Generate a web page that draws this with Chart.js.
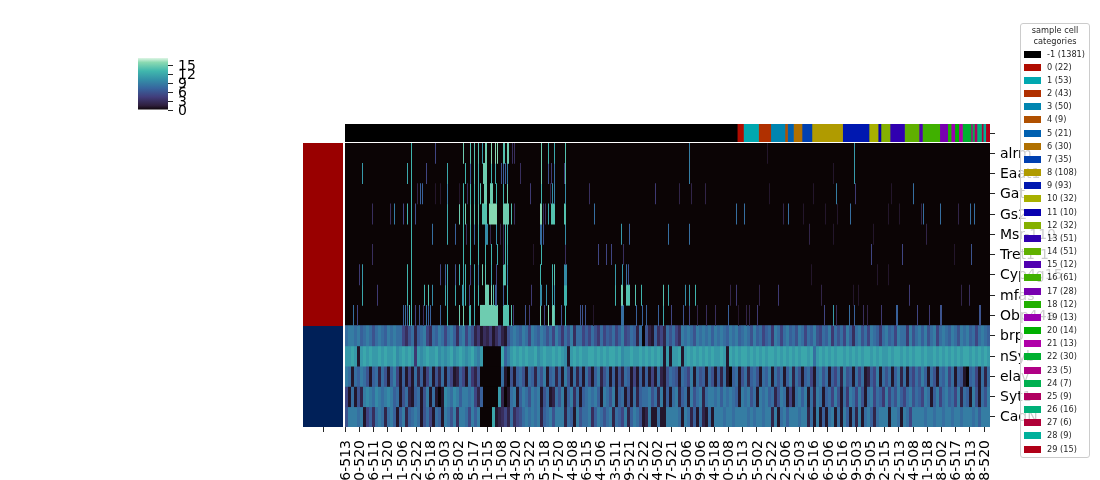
<!DOCTYPE html>
<html>
<head>
<meta charset="utf-8">
<title>Cell clustermap</title>
<script src="https://cdn.jsdelivr.net/npm/chart.js"></script>
<style>
    html, body { margin: 0; padding: 0; background: #fff; }
    body { width: 1100px; height: 480px; overflow: hidden; position: relative; font-family: 'DejaVu Sans', sans-serif; }
    canvas { position: absolute; }
    #legend { position: absolute; left: 1020px; top: 23px; width: 68px; height: 433px; box-sizing: content-box; background: rgba(255, 255, 255, 0.8); border: 1px solid #ccc; border-radius: 3px; z-index: 5; color: #262626; font-size: 8.2px; }
    #legend .title { text-align: center; line-height: 11px; margin-top: 1px; height: 22px; }
    #legend .row { position: absolute; left: 3px; height: 13px; line-height: 13px; white-space: nowrap; }
    #legend .swatch { position: absolute; left: 0; top: 3px; width: 17px; height: 7px; }
    #legend .label { position: absolute; left: 23px; top: 0; }
</style>
</head>
<body>
<canvas id="colorbar" width="100" height="70" style="left:130px;top:50px"></canvas>
<canvas id="col-colors" width="655" height="18" style="left:345px;top:124px"></canvas>
<canvas id="row-colors" width="40" height="289" style="left:303px;top:143px"></canvas>
<canvas id="heatmap" width="765" height="337" style="left:335px;top:143px"></canvas>
<div id="legend"></div>
<script>
// Cluster categories, in the order of the column colour bar
const clusterNames = ['-1', '0', '1', '2', '3', '4', '5', '6', '7', '8', '9', '10', '11', '12', '13', '14', '15', '16', '17', '18', '19', '20', '21', '22', '23', '24', '25', '26', '27', '28', '29'];
const clusterCounts = [1381, 22, 53, 43, 50, 9, 21, 30, 35, 108, 93, 32, 10, 32, 51, 51, 12, 61, 28, 12, 13, 14, 13, 30, 5, 7, 9, 16, 6, 9, 15];
const clusterColors = ['#000000', '#b00c00', '#00a8b0', '#b03000', '#0085b0', '#b05000', '#0060b0', '#b07000', '#0040b0', '#b09b00', '#0018b0', '#a8b000', '#0800b0', '#85b000', '#3000b0', '#60b000', '#5000b0', '#40b000', '#7800b0', '#20b000', '#9b00b0', '#00b000', '#b000a8', '#00b030', '#b00085', '#00b050', '#b00060', '#00b078', '#b00038', '#00b09b', '#b00018'];

const sampleTicks = ['6-513', '0-520', '6-511', '1-520', '1-506', '2-522', '6-518', '3-503', '8-502', '5-517', '1-515', '1-508', '4-520', '3-522', '5-518', '7-520', '4-508', '6-515', '4-506', '3-511', '9-521', '2-522', '4-502', '7-521', '5-506', '9-506', '4-518', '0-508', '5-513', '5-502', '2-522', '2-506', '2-503', '6-516', '6-506', '6-516', '9-503', '9-505', '2-515', '2-513', '4-508', '1-518', '8-502', '6-517', '8-513', '8-520'];
const tickEvery = 50;

const genes = ['alrm', 'Eaat1', 'Gat', 'Gs2', 'Msr-110', 'Tret1-1', 'Cyp4g15', 'mfas', 'Obp44a', 'brp', 'nSyb', 'elav', 'Syt1', 'CadN'];
const geneGroups = [9, 5];
const geneGroupColors = ['#990000', '#002058'];

// The picture shows the cells squeezed into 645 columns.
const totalCells = 2271;
const shownColumns = 645;
const colorMax = 17.6;
const colorbarTicks = [0, 3, 6, 9, 12, 15];

// mako colormap stops
const makoPos = [0, 0.083, 0.25, 0.417, 0.583, 0.75, 0.917, 1];
const makoHex = ['#0b0405', '#2e1e3c', '#413d7b', '#37659e', '#348fa7', '#40b7ad', '#8bdab2', '#def5e5'];

// Sparse genes: [column, expression, span]
const alrmHits = [[66,13],[90,5],[118,15],[125,14],[129,14],[133,14],[137,11],[140,15,2],[146,16],[150,16],[152,16],[158,14,2],[162,15,2],[167,3],[169,3],[196,15],[203,13],[209,12],[220,14],[344,9],[422,1],[509,11]];
const eaat1Hits = [[17,11],[62,12],[66,13],[81,5],[102,12],[120,13],[125,7],[129,14],[133,13],[138,15,4],[146,13],[150,12],[156,6],[158,7],[160,7],[162,9],[175,3],[196,15],[203,6],[206,4],[209,8],[219,4],[220,14],[344,9],[488,1],[509,11]];
const gatHits = [[66,13],[72,2],[75,7],[77,7],[90,1],[95,1],[102,9],[114,1],[118,13],[122,3],[125,13],[129,13],[133,13],[135,14],[139,15,3],[145,15,3],[151,13],[158,13],[162,15],[185,4],[196,13],[205,2],[207,10],[209,9],[220,10],[244,3],[310,4],[334,2],[346,2],[360,2],[424,1],[468,1],[491,9],[510,4],[546,1],[568,8]];
const gs2Hits = [[27,3],[45,3],[49,9],[58,5],[62,13],[66,13],[70,6],[102,12],[114,15],[118,13],[120,15],[125,14],[129,14],[133,14],[137,14,5],[144,16,8],[158,15,6],[166,14],[169,3],[195,16,2],[198,3],[200,3],[203,12],[206,14,3],[209,14],[219,14,2],[249,8],[391,8],[399,8],[438,2],[443,8],[458,1],[480,1],[492,1],[505,8],[543,1],[554,1],[576,2],[578,8],[595,8],[613,2],[625,8],[629,8]];
const msrHits = [[66,13],[87,8],[102,12],[110,7],[118,13],[121,3],[125,13],[129,8],[133,13],[140,10,3],[145,2],[151,10],[155,2],[158,3],[160,13],[162,13],[195,8,2],[198,6],[220,10],[276,11],[284,7],[323,8],[344,8],[464,2],[488,1],[528,1],[581,2]];
const tretHits = [[27,3],[66,13],[118,13],[125,13],[133,13],[140,13],[146,13],[152,12],[158,3],[160,13],[162,12],[188,1],[196,13],[220,3],[253,5],[261,5],[266,5],[278,3],[526,5],[557,5],[609,1],[626,6]];
const cypHits = [[14,4],[17,11],[62,13],[66,13],[95,5],[100,7],[102,12],[110,6],[114,13],[118,12],[120,13],[125,5],[129,12],[133,9],[137,15],[140,14],[146,12],[151,5],[158,14,3],[162,9],[195,13],[207,13],[209,14],[219,10,3],[270,11],[277,11],[281,8],[283,6],[466,1],[532,1],[543,1]];
const mfasHits = [[17,12],[32,4],[62,13],[66,13],[79,13],[83,14],[87,10],[100,12],[102,12],[110,12],[117,11,2],[120,13],[124,5],[129,13],[133,13],[140,15,3],[143,15],[146,16],[148,14],[150,7],[151,6],[158,7],[162,13],[186,4],[195,10,2],[201,10],[207,12],[209,10],[219,13,3],[270,13],[276,15,2],[281,14,4],[290,14],[296,13],[318,14],[323,12],[340,10],[344,11],[350,13],[385,2],[391,4],[414,2],[433,4],[476,2],[508,1],[513,1],[564,4],[616,2],[624,3]];
const obpHits = [[8,8],[12,5],[58,7],[60,8],[62,7],[64,14],[66,13],[70,5],[74,6],[78,3],[81,8],[83,7],[85,7],[95,7],[102,13],[114,15],[118,15],[124,13,2],[129,12],[135,15,18],[158,14,6],[166,14],[168,4],[180,6],[184,4],[195,15],[199,5],[203,16],[207,15,2],[209,14],[216,6],[220,13],[235,6],[237,6],[240,6],[248,1],[276,8,3],[291,7],[297,7],[301,7],[313,7],[318,12],[326,5],[338,6],[344,5],[352,2],[361,3],[370,3],[383,7],[393,1],[401,2],[404,2],[412,4],[479,5],[488,11],[491,3],[504,8],[509,7],[518,3],[522,2],[536,4],[551,7,2],[572,5],[584,4],[595,6,2],[634,6,2]];

// Dense genes: one value for every 3 shown columns
const denseBin = 3;
const brpBins = [
    8,9,9,8,9,7,8,9,8,6,8,9,8,7,9,8,9,8,8,5,
    3,6,8,2,7,8,9,5,3,8,7,9,8,5,8,9,7,3,8,9,
    5,8,6,2,4,1,3,2,4,1,3,5,2,1,6,8,9,8,7,9,
    8,5,9,8,7,9,8,6,8,5,9,7,4,8,6,9,3,8,8,5,
    7,5,8,6,4,8,5,7,6,8,5,7,9,5,6,8,7,2,8,0,
    6,2,1,7,3,5,2,8,6,8,5,3,9,8,9,8,6,9,8,9,
    8,9,7,9,8,9,8,7,9,8,9,7,8,9,8,6,9,7,8,5,
    7,8,4,9,8,5,8,9,7,8,6,9,8,5,8,7,9,6,5,8,
    7,9,4,8,6,8,5,9,7,3,8,9,6,8,5,9,8,7,4,8,
    9,7,8,5,9,8,8,4,9,6,8,9,7,9,6,8,9,5,8,9,
    8,7,9,8,6,9,8,9,7,8,5,8,9,8,7
];
const nsybBins = [
    11,11,12,11,1,11,12,11,12,11,11,12,11,12,11,11,12,10,11,12,
    11,12,11,4,11,10,11,12,11,11,12,10,11,10,11,12,10,11,12,11,
    10,11,12,10,9,11,0,0,0,0,0,0,12,7,9,11,12,11,12,11,
    12,11,11,12,10,11,12,11,11,12,11,12,11,10,1,11,12,11,12,11,
    11,12,12,11,12,11,12,11,12,12,11,12,10,11,11,12,11,11,12,11,
    12,11,12,11,12,11,1,11,1,11,11,12,1,11,12,11,12,11,12,11,
    12,11,12,11,11,12,11,1,12,11,12,11,12,12,11,12,11,12,11,12,
    11,12,12,11,12,11,12,11,12,11,12,11,12,12,11,12,8,11,12,11,
    12,11,12,11,12,12,11,12,11,12,11,12,11,12,12,11,12,11,12,11,
    11,12,11,12,12,11,12,11,12,11,12,12,11,12,11,11,12,11,12,11,
    12,11,12,11,12,11,12,12,11,12,11,12,11,12,11
];
const elavBins = [
    9,8,1,8,7,9,8,6,1,7,8,2,8,6,1,7,9,5,1,7,
    1,5,1,8,2,7,1,5,8,1,6,2,8,1,7,5,1,2,7,5,
    1,8,4,2,6,0,0,0,0,0,0,0,8,1,0,6,1,7,8,6,
    1,8,7,2,8,6,9,1,7,8,2,7,1,9,6,1,8,2,7,1,
    8,5,1,7,9,2,6,8,1,7,1,6,2,8,7,1,5,1,7,1,
    7,1,5,1,8,2,1,6,8,7,6,1,8,7,5,9,1,8,6,7,
    1,8,6,1,7,2,8,1,0,7,8,1,6,8,2,7,8,6,1,8,
    7,9,1,8,6,8,1,7,9,2,8,6,1,7,8,5,1,8,9,6,
    8,1,7,5,8,2,9,6,7,1,8,5,8,1,2,7,5,9,1,8,
    6,8,1,7,9,2,8,1,7,5,8,6,9,7,1,8,6,1,8,7,
    9,5,8,1,7,6,1,0,7,8,5,1,8,2,8
];
const syt1Bins = [
    5,1,8,1,6,2,9,10,9,8,10,9,8,9,10,9,7,8,1,6,
    8,2,1,7,8,1,6,9,1,8,1,0,1,10,9,8,10,9,7,9,
    9,8,9,5,2,7,0,0,0,0,0,11,2,0,1,8,9,1,7,9,
    8,6,9,8,9,1,6,8,1,2,8,6,9,1,7,9,3,8,1,7,
    8,9,8,9,7,1,9,8,6,9,1,7,8,1,6,1,8,2,7,8,
    8,9,6,8,2,9,1,7,1,8,9,2,7,8,1,9,6,8,9,2,
    8,9,9,8,9,7,9,8,9,8,7,1,9,8,9,6,8,1,9,8,
    9,7,8,2,6,9,8,1,5,1,8,9,7,9,1,8,2,9,8,1,
    7,8,5,9,6,1,8,4,9,8,5,9,6,1,8,9,5,8,7,4,
    9,5,8,6,9,7,5,8,9,6,8,7,5,9,8,1,7,9,5,8,
    9,7,8,5,9,2,8,7,1,9,6,1,8,6,9
];
const cadnBins = [
    6,9,9,9,8,9,1,5,7,3,8,9,8,2,8,9,7,1,7,9,
    2,7,8,9,8,1,6,8,5,1,8,7,1,9,8,6,9,3,9,9,
    8,5,9,7,9,0,0,0,0,12,1,2,3,5,2,8,3,5,6,8,
    9,8,9,8,9,2,7,8,9,6,9,9,9,2,8,7,1,9,6,8,
    8,9,3,7,9,8,6,8,9,2,8,7,5,9,2,7,9,8,6,1,
    2,9,1,1,8,1,1,9,9,9,9,8,1,9,8,2,7,1,8,2,
    1,8,1,9,9,9,8,9,9,8,9,9,9,9,8,9,8,9,9,8,
    9,9,2,9,1,8,9,7,9,9,9,8,9,9,2,8,1,9,1,7,
    1,8,9,1,8,1,9,7,1,8,2,9,1,8,9,7,2,8,9,9,
    9,1,9,9,8,1,9,8,5,9,9,9,9,8,9,9,8,9,9,8,
    9,9,8,9,9,8,9,9,9,8,9,7,9,9,9
];

const sparseRows = [alrmHits, eaat1Hits, gatHits, gs2Hits, msrHits, tretHits, cypHits, mfasHits, obpHits];
const denseRows = [brpBins, nsybBins, elavBins, syt1Bins, cadnBins];

const INK = '#000000';
Chart.defaults.font.family = "'DejaVu Sans', sans-serif";
Chart.defaults.color = INK;
Chart.defaults.animation = false;
Chart.defaults.responsive = false;
Chart.defaults.plugins.legend.display = false;
Chart.defaults.plugins.tooltip.enabled = false;

function hexToRgb(hex) {
    return [1, 3, 5].map(i => parseInt(hex.slice(i, i + 2), 16));
}

function valueColor(value) {
    const t = Math.min(value / colorMax, 1);
    let i = 0;
    while (i < makoPos.length - 2 && t > makoPos[i + 1]) i++;
    const f = (t - makoPos[i]) / (makoPos[i + 1] - makoPos[i]);
    const a = hexToRgb(makoHex[i]);
    const b = hexToRgb(makoHex[i + 1]);
    const rgb = a.map((c, k) => Math.round(c + (b[k] - c) * f));
    return `rgb(${rgb.join(',')})`;
}

const toCells = column => column * totalCells / shownColumns;

const tickGrid = { offset: false, drawOnChartArea: false, tickLength: 5, tickColor: '#262626', tickWidth: 1 };

// Tick labels would otherwise push the plot area in
const noPadding = axis => { axis.paddingTop = 0; axis.paddingBottom = 0; axis.paddingLeft = 0; axis.paddingRight = 0; };

// Colour scale in the upper left
new Chart(document.getElementById('colorbar'), {
    type: 'bar',
    data: {
        labels: [''],
        datasets: [{
            data: [[0, colorMax]],
            barPercentage: 1,
            categoryPercentage: 1,
            inflateAmount: 0,
            backgroundColor: context => {
                const { ctx, chartArea } = context.chart;
                if (!chartArea) return makoHex[0];
                const gradient = ctx.createLinearGradient(0, chartArea.bottom, 0, chartArea.top);
                makoPos.forEach((pos, i) => gradient.addColorStop(pos, makoHex[i]));
                return gradient;
            }
        }]
    },
    options: {
        layout: { padding: { left: 8, top: 8, bottom: 10 } },
        scales: {
            x: { display: false },
            y: {
                position: 'right',
                min: 0,
                max: colorMax,
                afterBuildTicks: axis => { axis.ticks = colorbarTicks.map(value => ({ value })); },
                afterFit: axis => { axis.width = 62; noPadding(axis); },
                border: { display: false },
                grid: tickGrid,
                ticks: { autoSkip: false, padding: 5, labelOffset: 1, font: { size: 14 }, color: INK }
            }
        }
    }
});

// Column colour bar: one stacked piece per cluster
new Chart(document.getElementById('col-colors'), {
    type: 'bar',
    data: {
        labels: [''],
        datasets: clusterNames.map((name, i) => ({
            label: name,
            data: [clusterCounts[i]],
            backgroundColor: clusterColors[i],
            barPercentage: 1,
            categoryPercentage: 1
        }))
    },
    options: {
        indexAxis: 'y',
        scales: {
            x: { display: false, stacked: true, min: 0, max: totalCells },
            y: {
                stacked: true,
                position: 'right',
                afterFit: axis => { axis.width = 10; noPadding(axis); },
                border: { display: false },
                grid: tickGrid,
                ticks: { padding: 0, font: { size: 1 } }
            }
        }
    }
});

// Row colour strip: red and navy gene groups
new Chart(document.getElementById('row-colors'), {
    type: 'bar',
    data: {
        labels: [''],
        datasets: geneGroups.map((count, i) => ({
            data: [count],
            backgroundColor: geneGroupColors[i],
            barPercentage: 1,
            categoryPercentage: 1
        }))
    },
    options: {
        scales: {
            x: {
                stacked: true,
                afterFit: axis => { axis.height = 5; noPadding(axis); },
                border: { display: false },
                grid: tickGrid,
                ticks: { padding: 0, font: { size: 1 } }
            },
            y: { display: false, stacked: true, reverse: true, min: 0, max: genes.length }
        }
    }
});

// The heatmap itself: one bar dataset per gene, each bar one column range
function sparseDataset(gene, hits) {
    const data = hits.map(([column, value, span = 1]) => ({
        x: [toCells(column), toCells(column + span)],
        y: gene,
        v: value
    }));
    return { data, backgroundColor: data.map(d => valueColor(d.v)) };
}

function denseDataset(gene, bins) {
    const data = bins.map((value, i) => ({
        x: [toCells(i * denseBin), toCells((i + 1) * denseBin)],
        y: gene,
        v: value
    }));
    return { data, backgroundColor: data.map(d => valueColor(d.v)) };
}

const plotBackground = {
    id: 'plotBackground',
    beforeDatasetsDraw(chart) {
        const { ctx, chartArea: a } = chart;
        ctx.save();
        ctx.fillStyle = valueColor(0);
        ctx.fillRect(a.left, a.top, a.width, a.height);
        ctx.restore();
    }
};

new Chart(document.getElementById('heatmap'), {
    type: 'bar',
    data: {
        labels: genes,
        datasets: [
            ...sparseRows.map((hits, i) => sparseDataset(genes[i], hits)),
            ...denseRows.map((bins, i) => denseDataset(genes[sparseRows.length + i], bins))
        ]
    },
    plugins: [plotBackground],
    options: {
        indexAxis: 'y',
        datasets: { bar: { grouped: false, barThickness: 21, inflateAmount: 0 } },
        layout: { padding: { left: 10 } },
        scales: {
            x: {
                type: 'linear',
                min: 0,
                max: totalCells,
                afterBuildTicks: axis => {
                    axis.ticks = sampleTicks.map((_, i) => ({ value: i * tickEvery + 0.5 }));
                },
                afterFit: axis => { axis.height = 53; noPadding(axis); },
                border: { display: false },
                grid: tickGrid,
                ticks: {
                    autoSkip: false,
                    minRotation: 90,
                    maxRotation: 90,
                    padding: 8,
                    labelOffset: 1,
                    font: { size: 14 },
                    color: INK,
                    callback: (value, index) => sampleTicks[index]
                }
            },
            y: {
                position: 'right',
                afterFit: axis => { axis.width = 110; noPadding(axis); },
                border: { display: false },
                grid: tickGrid,
                ticks: { autoSkip: false, padding: 5, labelOffset: 1, font: { size: 14 }, color: INK }
            }
        }
    }
});

// Legend, built from the cluster arrays
const legendBox = document.getElementById('legend');
legendBox.innerHTML = '<div class="title">sample cell<br>categories</div>';
clusterNames.forEach((name, i) => {
    const row = document.createElement('div');
    row.className = 'row';
    row.style.top = `${23.5 + i * 13.17}px`;
    row.innerHTML = `<span class="swatch" style="background:${clusterColors[i]}"></span><span class="label">${name} (${clusterCounts[i]})</span>`;
    legendBox.appendChild(row);
});
</script>
</body>
</html>
